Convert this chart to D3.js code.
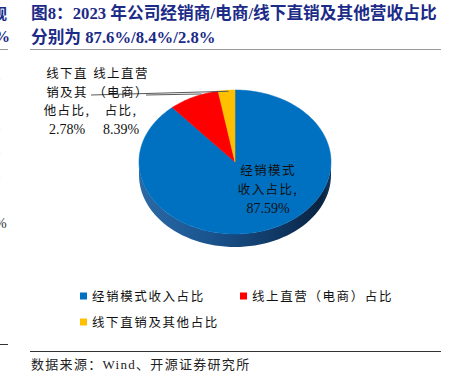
<!DOCTYPE html>
<html><head><meta charset="utf-8">
<script src="https://cdn.jsdelivr.net/npm/d3@7"></script>
<style>
html,body{margin:0;padding:0;background:#fff;}
svg{display:block;}
</style></head>
<body>
<script>
const categories = ["经销模式收入占比", "线上直营（电商）占比", "线下直销及其他占比"];
const values = [87.59, 8.39, 2.78];
const colors = ["#0070C0", "#FF0000", "#FFC000"];
const sliceLabels = [["经销模式", "收入占比,", "87.59%"], ["线上直营", "（电商）", "占比,", "8.39%"], ["线下直", "销及其", "他占比,", "2.78%"]];
const titleLines = ["图8：2023 年公司经销商/电商/线下直销及其他营收占比", "分别为 87.6%/8.4%/2.8%"];
const source = "数据来源：Wind、开源证券研究所";

const W = 453, H = 386;
const svg = d3.select("body").append("svg").attr("width", W).attr("height", H);
const cjk = "'Noto Sans CJK SC', sans-serif";
const serif = "'Liberation Serif', 'Times New Roman', serif";

// residual text from adjacent column at far left
svg.append("text").attr("x", -8).attr("y", 19).attr("font-family", cjk).attr("font-weight", "bold")
  .attr("font-size", 15).attr("fill", "#1c2b87").text("观");
svg.append("text").attr("x", -6).attr("y", 42).attr("font-family", serif).attr("font-weight", "bold")
  .attr("font-size", 16).attr("fill", "#1c2b87").text("%");
svg.append("line").attr("x1", 0).attr("x2", 8).attr("y1", 49.5).attr("y2", 49.5).attr("stroke", "#999").attr("stroke-width", 1);
[76, 101, 126, 150, 175].forEach(y => svg.append("text").attr("x", -3).attr("y", y + 3).attr("font-family", serif)
  .attr("font-size", 9).attr("fill", "#888").text("。"));
svg.append("text").attr("x", -5).attr("y", 228).attr("font-family", serif).attr("font-size", 14).attr("fill", "#333").text("%");
svg.append("line").attr("x1", 0).attr("x2", 8).attr("y1", 344.5).attr("y2", 344.5).attr("stroke", "#333").attr("stroke-width", 1);

// title
titleLines.forEach((t, i) => {
  svg.append("text").attr("x", 31).attr("y", 19 + i * 24)
    .attr("font-family", "'Liberation Serif', 'Noto Sans CJK SC', serif").attr("font-weight", "bold")
    .attr("font-size", 16.7).attr("fill", "#1c2b87").text(t);
});
svg.append("line").attr("x1", 30).attr("x2", 441).attr("y1", 49.5).attr("y2", 49.5)
  .attr("stroke", "#9a9a9a").attr("stroke-width", 1.2);

// pie
const cx = 235, cy = 162, rx = 96, ry = 72, depth = 13;
const pie = d3.pie().sort(null).value(d => d).startAngle(0).endAngle(2 * Math.PI);
const arcs = pie(values);
const px = a => cx + rx * Math.sin(a);
const py = (a, dy = 0) => cy - ry * Math.cos(a) + dy;

const defs = svg.append("defs");
const g = defs.append("linearGradient").attr("id", "side").attr("x1", "0").attr("x2", "1").attr("y1", "0").attr("y2", "0");
g.append("stop").attr("offset", "0%").attr("stop-color", "#2b6aa6");
g.append("stop").attr("offset", "35%").attr("stop-color", "#1b5590");
g.append("stop").attr("offset", "75%").attr("stop-color", "#0f3560");
g.append("stop").attr("offset", "95%").attr("stop-color", "#0a2441");
g.append("stop").attr("offset", "100%").attr("stop-color", "#14365c");

// side (front half: angles PI/2 .. 3PI/2)
function sidePath(a0, a1) {
  const n = 60, pts = [];
  for (let i = 0; i <= n; i++) { const a = a0 + (a1 - a0) * i / n; pts.push([px(a), py(a)]); }
  for (let i = n; i >= 0; i--) { const a = a0 + (a1 - a0) * i / n; pts.push([px(a), py(a, depth)]); }
  return d3.line()(pts) + "Z";
}
arcs.forEach((d, i) => {
  const a0 = Math.max(d.startAngle, Math.PI / 2), a1 = Math.min(d.endAngle, 3 * Math.PI / 2);
  if (a1 > a0) svg.append("path").attr("d", sidePath(a0, a1)).attr("fill", i === 0 ? "url(#side)" : d3.color(colors[i]).darker(1));
});

// top faces
function topPath(d) {
  const n = Math.max(8, Math.ceil((d.endAngle - d.startAngle) * 40)), pts = [[cx, cy]];
  for (let i = 0; i <= n; i++) { const a = d.startAngle + (d.endAngle - d.startAngle) * i / n; pts.push([px(a), py(a)]); }
  return d3.line()(pts) + "Z";
}
arcs.forEach((d, i) => {
  svg.append("path").attr("d", topPath(d)).attr("fill", colors[i]).attr("stroke", colors[i]).attr("stroke-width", 0.5);
});

// leader lines
const midY = d => py((d.startAngle + d.endAngle) / 2);
const midX = d => px((d.startAngle + d.endAngle) / 2);
svg.append("path").attr("d", d3.line()([[91, 95], [midX(arcs[2]) + 2, midY(arcs[2]) + 1]]))
  .attr("stroke", "#595959").attr("stroke-width", 1).attr("fill", "none");
svg.append("path").attr("d", d3.line()([[146, 95], [midX(arcs[1]) + 8, midY(arcs[1]) - 3]]))
  .attr("stroke", "#595959").attr("stroke-width", 1).attr("fill", "none");

// labels
function drawLabel(lines, x, y0, lh) {
  lines.forEach((t, j) => {
    const isNum = /^[0-9.]+%$/.test(t);
    svg.append("text").attr("x", x).attr("y", y0 + j * lh).attr("text-anchor", "middle")
      .attr("font-family", isNum ? serif : cjk).attr("font-size", isNum ? 14 : 12.5)
      .attr("letter-spacing", isNum ? 0 : 1.4).attr("fill", "#111").text(t);
  });
}
drawLabel(sliceLabels[0], 268, 175, 19);
drawLabel(sliceLabels[2], 67, 78, 18.7);
drawLabel(sliceLabels[1], 121, 78, 18.7);

// legend
const legendPos = [[80, 296], [240, 296], [80, 322]];
categories.forEach((c, i) => {
  const [x, y] = legendPos[i];
  svg.append("rect").attr("x", x).attr("y", y - 3.5).attr("width", 7).attr("height", 7).attr("fill", colors[i]);
  svg.append("text").attr("x", x + 12).attr("y", y + 4.5).attr("font-family", cjk).attr("font-size", 12.5)
    .attr("letter-spacing", 1.6).attr("fill", "#111").text(c);
});

// source
svg.append("line").attr("x1", 30).attr("x2", 441).attr("y1", 351.5).attr("y2", 351.5).attr("stroke", "#333").attr("stroke-width", 1);
svg.append("text").attr("x", 31).attr("y", 369).attr("font-family", "'Liberation Serif', 'Noto Sans CJK SC', serif")
  .attr("font-size", 13).attr("letter-spacing", 1.3).attr("fill", "#222").text(source);
</script>
</body></html>
